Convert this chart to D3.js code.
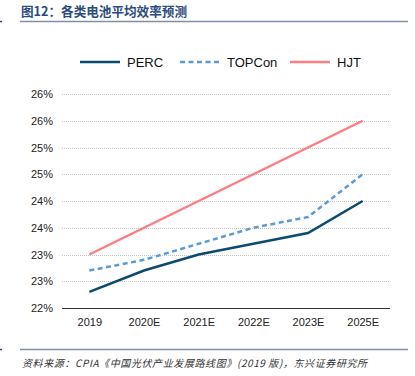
<!DOCTYPE html>
<html>
<head>
<meta charset="utf-8">
<script src="https://cdn.jsdelivr.net/npm/d3@7"></script>
<style>
  html, body { margin: 0; padding: 0; background: #fff; }
  svg { display: block; font-family: "Liberation Sans", Arial, sans-serif; }
</style>
</head>
<body>
<div id="chart"></div>
<script>
// Cell efficiency forecast by technology
const years = ["2019", "2020E", "2021E", "2022E", "2023E", "2025E"];
const perc = [22.3, 22.7, 23.0, 23.2, 23.4, 24.0];
const topcon = [22.7, 22.9, 23.2, 23.5, 23.7, 24.5];
const hjt = [23.0, 23.5, 24.0, 24.5, 25.0, 25.5];
const yTicks = [22, 22.5, 23, 23.5, 24, 24.5, 25, 25.5, 26];

const series = [
  { name: "PERC", values: perc, color: "#0c4a6e", dash: null },
  { name: "TOPCon", values: topcon, color: "#5b9bd5", dash: "5 3.5" },
  { name: "HJT", values: hjt, color: "#ff7c80", dash: null }
];

const width = 415, height = 376;
const margin = { top: 94, right: 25, bottom: 68, left: 62 };

const svg = d3.select("#chart").append("svg")
  .attr("width", width)
  .attr("height", height);

// header
svg.append("text")
  .attr("x", 21)
  .attr("y", 16)
  .attr("fill", "#2b4c7e")
  .style("font-family", "'Noto Sans CJK SC', sans-serif")
  .style("font-size", "12.6px")
  .style("font-weight", "bold")
  .text("图12：各类电池平均效率预测");

svg.append("line")
  .attr("x1", 20).attr("x2", 408)
  .attr("y1", 21.5).attr("y2", 21.5)
  .attr("stroke", "#7f8fa6").attr("stroke-width", 1.5);

svg.append("line")
  .attr("x1", 0).attr("x2", 2)
  .attr("y1", 21.5).attr("y2", 21.5)
  .attr("stroke", "#2b4c7e").attr("stroke-width", 1.5);

// footer
svg.append("line")
  .attr("x1", 20).attr("x2", 408)
  .attr("y1", 349.5).attr("y2", 349.5)
  .attr("stroke", "#7f8fa6").attr("stroke-width", 1.5);

svg.append("line")
  .attr("x1", 0).attr("x2", 2)
  .attr("y1", 349.5).attr("y2", 349.5)
  .attr("stroke", "#2b4c7e").attr("stroke-width", 1.5);

svg.append("text")
  .attr("x", 22)
  .attr("y", 367)
  .attr("fill", "#333")
  .style("font-family", "'Noto Sans CJK SC', sans-serif")
  .style("font-size", "10px")
  .style("font-style", "italic")
  .style("letter-spacing", "0.6px")
  .text("资料来源：CPIA《中国光伏产业发展路线图》(2019 版)，东兴证券研究所");

const x = d3.scalePoint()
  .domain(years)
  .range([margin.left, width - margin.right])
  .padding(0.5);

const y = d3.scaleLinear()
  .domain([22, 26])
  .range([height - margin.bottom, margin.top]);

// gridlines
svg.append("g")
  .selectAll("line")
  .data(yTicks.slice(1))
  .enter()
  .append("line")
  .attr("x1", margin.left)
  .attr("x2", width - margin.right)
  .attr("y1", d => Math.round(y(d)) + 0.5)
  .attr("y2", d => Math.round(y(d)) + 0.5)
  .attr("stroke", "#c4c4c4")
  .attr("stroke-dasharray", "1 1");

// y labels (rounded to whole percent like the source)
svg.append("g")
  .attr("transform", `translate(${margin.left},0)`)
  .call(d3.axisLeft(y).tickValues(yTicks).tickSize(0).tickPadding(9)
    .tickFormat(d => Math.round(d + 1e-9) + "%"))
  .call(g => g.select(".domain").remove())
  .selectAll("text")
  .attr("fill", "#222")
  .style("font-size", "11px");

// x axis
svg.append("g")
  .attr("transform", `translate(0,${y(22)})`)
  .call(d3.axisBottom(x).tickSize(0).tickPadding(10))
  .call(g => g.select(".domain")
    .attr("d", `M${margin.left},0.5H${width - margin.right}`)
    .attr("stroke", "#333").attr("stroke-width", 1.2))
  .selectAll("text")
  .attr("fill", "#222")
  .style("font-size", "11px");

// lines
const line = d3.line()
  .x((d, i) => x(years[i]))
  .y(d => y(d));

series.forEach(s => {
  svg.append("path")
    .datum(s.values)
    .attr("fill", "none")
    .attr("stroke", s.color)
    .attr("stroke-width", 2.5)
    .attr("stroke-dasharray", s.dash)
    .attr("d", line);
});

// legend
const legendX = [80, 180, 290];
const legend = svg.append("g")
  .selectAll("g")
  .data(series)
  .enter()
  .append("g")
  .attr("transform", (d, i) => `translate(${legendX[i]},62)`);

legend.append("line")
  .attr("x1", 0).attr("x2", 40)
  .attr("stroke", d => d.color)
  .attr("stroke-width", 2.5)
  .attr("stroke-dasharray", d => d.dash);

legend.append("text")
  .attr("x", 47)
  .attr("y", 5)
  .attr("fill", "#111")
  .style("font-size", "13px")
  .text(d => d.name);
</script>
</body>
</html>
